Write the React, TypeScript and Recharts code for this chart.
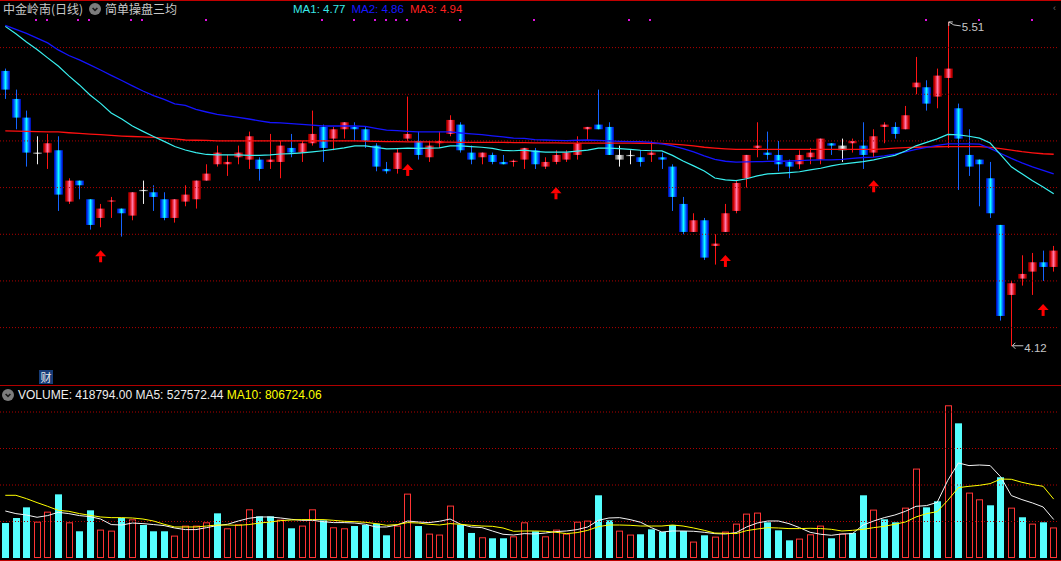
import React from "react";
import { Bar, ComposedChart, Line, ReferenceDot, ReferenceLine, XAxis, YAxis } from "recharts";

// daily candles
const OPEN = [
  5.3, 5.18, 5.1, 4.95, 4.95, 4.96, 4.74, 4.83, 4.75, 4.67,
  4.74, 4.71, 4.68, 4.79, 4.78, 4.75, 4.67, 4.74, 4.75, 4.83,
  4.9, 4.9, 4.93, 4.92, 4.92, 4.91, 4.91, 4.97, 4.95, 4.99,
  5.06, 5.01, 5.05, 5.06, 5.05, 4.98, 4.88, 4.88, 5.01, 5.0,
  4.93, 4.99, 5.03, 5.07, 4.95, 4.93, 4.94, 4.91, 4.91, 4.92,
  4.96, 4.89, 4.91, 4.92, 4.94, 5.05, 5.07, 5.06, 4.94, 4.94,
  4.93, 4.94, 4.93, 4.89, 4.73, 4.61, 4.66, 4.55, 4.61, 4.7,
  4.84, 4.97, 4.95, 4.94, 4.91, 4.9, 4.93, 4.92, 4.99, 4.98,
  4.99, 4.98, 4.95, 5.06, 5.06, 5.05, 5.23, 5.23, 5.19, 5.27,
  5.14, 4.94, 4.92, 4.84, 4.64, 4.34, 4.41, 4.44, 4.48, 4.46,
];
const HIGH = [
  5.31, 5.22, 5.13, 5.02, 5.03, 5.02, 4.84, 4.83, 4.75, 4.73,
  4.76, 4.71, 4.78, 4.83, 4.81, 4.78, 4.75, 4.81, 4.83, 4.9,
  4.98, 4.94, 4.98, 5.04, 4.93, 5.03, 5.0, 5.03, 5.0, 5.13,
  5.07, 5.06, 5.08, 5.08, 5.06, 4.99, 4.91, 4.97, 5.19, 5.04,
  5.0, 5.04, 5.11, 5.08, 4.98, 4.95, 4.95, 4.94, 4.92, 4.97,
  4.97, 4.93, 4.96, 4.96, 5.02, 5.06, 5.22, 5.08, 4.98, 4.96,
  4.96, 5.0, 4.95, 4.9, 4.76, 4.69, 4.67, 4.6, 4.73, 4.83,
  4.94, 5.08, 5.04, 5.0, 4.92, 4.96, 4.97, 5.01, 4.99, 5.01,
  5.01, 5.08, 5.05, 5.08, 5.08, 5.15, 5.36, 5.26, 5.31, 5.51,
  5.16, 5.05, 4.92, 4.91, 4.64, 4.4, 4.51, 4.52, 4.53, 4.55,
];
const LOW = [
  5.18, 5.05, 4.89, 4.9, 4.88, 4.7, 4.73, 4.75, 4.62, 4.63,
  4.67, 4.59, 4.66, 4.73, 4.7, 4.66, 4.65, 4.72, 4.71, 4.83,
  4.89, 4.85, 4.9, 4.88, 4.83, 4.88, 4.84, 4.93, 4.91, 4.98,
  4.91, 4.96, 5.01, 5.0, 4.97, 4.87, 4.86, 4.86, 5.0, 4.92,
  4.91, 4.97, 5.02, 4.95, 4.9, 4.9, 4.9, 4.9, 4.89, 4.88,
  4.88, 4.88, 4.9, 4.91, 4.92, 5.0, 5.05, 4.94, 4.89, 4.9,
  4.89, 4.91, 4.88, 4.7, 4.6, 4.61, 4.49, 4.47, 4.61, 4.69,
  4.8, 4.93, 4.92, 4.87, 4.84, 4.88, 4.9, 4.9, 4.94, 4.91,
  4.95, 4.88, 4.93, 4.99, 5.01, 5.05, 5.2, 5.13, 5.14, 4.97,
  4.79, 4.85, 4.72, 4.67, 4.23, 4.12, 4.38, 4.34, 4.4, 4.44,
];
const CLOSE = [
  5.22, 5.1, 4.95, 4.95, 4.99, 4.77, 4.83, 4.81, 4.64, 4.71,
  4.745, 4.69, 4.78, 4.79, 4.76, 4.67, 4.75, 4.77, 4.83, 4.86,
  4.95, 4.91, 4.95, 5.02, 4.88, 4.92, 4.98, 4.95, 4.99, 5.03,
  4.97, 5.05, 5.08, 5.05, 5.0, 4.89, 4.87, 4.95, 5.03, 4.94,
  4.98, 5.0, 5.09, 4.96, 4.92, 4.95, 4.91, 4.9, 4.915, 4.97,
  4.9, 4.91, 4.94, 4.95, 4.99, 5.06, 5.05, 4.94, 4.92, 4.94,
  4.91, 4.95, 4.92, 4.76, 4.61, 4.66, 4.5, 4.56, 4.69, 4.82,
  4.94, 4.98, 4.94, 4.9, 4.89, 4.94, 4.95, 5.01, 4.98, 4.96,
  5.0, 4.94, 5.02, 5.07, 5.03, 5.11, 5.25, 5.16, 5.28, 5.31,
  5.01, 4.89, 4.9, 4.69, 4.25, 4.39, 4.43, 4.48, 4.46, 4.53,
];
// candles drawn white (flat)
const WHITE_DAYS = [3, 13, 58, 59, 79];

// the three moving averages of the indicator
const MA1 = [
  5.491, 5.459, 5.424, 5.392, 5.356, 5.321, 5.279, 5.24, 5.197, 5.161,
  5.12, 5.094, 5.064, 5.041, 5.019, 4.998, 4.976, 4.961, 4.95, 4.942,
  4.94, 4.94, 4.94, 4.938, 4.938, 4.94, 4.944, 4.946, 4.949, 4.953,
  4.958, 4.964, 4.97, 4.979, 4.979, 4.972, 4.966, 4.967, 4.969, 4.968,
  4.969, 4.97, 4.979, 4.979, 4.976, 4.973, 4.968, 4.959, 4.958, 4.961,
  4.955, 4.952, 4.952, 4.952, 4.956, 4.961, 4.969, 4.969, 4.967, 4.964,
  4.96, 4.958, 4.957, 4.938, 4.914, 4.893, 4.871, 4.841, 4.833, 4.83,
  4.838, 4.85, 4.859, 4.861, 4.864, 4.868, 4.876, 4.883, 4.893, 4.901,
  4.906, 4.911, 4.919, 4.929, 4.938, 4.957, 4.979, 4.994, 5.009, 5.028,
  5.026, 5.02, 5.012, 4.991, 4.94, 4.889, 4.859, 4.829, 4.803, 4.774,
];
const MA2 = [
  5.495, 5.478, 5.461, 5.441, 5.42, 5.39, 5.366, 5.347, 5.326, 5.304,
  5.281, 5.259, 5.236, 5.214, 5.194, 5.178, 5.159, 5.152, 5.135, 5.124,
  5.114, 5.107, 5.101, 5.094, 5.086, 5.079, 5.077, 5.074, 5.071, 5.068,
  5.064, 5.064, 5.064, 5.064, 5.062, 5.054, 5.046, 5.044, 5.041, 5.039,
  5.039, 5.039, 5.039, 5.034, 5.03, 5.027, 5.022, 5.017, 5.012, 5.011,
  5.006, 5.004, 5.002, 5.001, 5.003, 5.004, 5.002, 5.0, 4.998, 4.997,
  4.997, 4.994, 4.987, 4.979, 4.967, 4.953, 4.936, 4.921, 4.913, 4.909,
  4.91, 4.911, 4.912, 4.913, 4.914, 4.916, 4.918, 4.919, 4.919, 4.921,
  4.925, 4.929, 4.931, 4.936, 4.943, 4.953, 4.964, 4.972, 4.981, 4.987,
  4.987, 4.987, 4.986, 4.968, 4.946, 4.925, 4.906, 4.889, 4.874, 4.859,
];
const MA3 = [
  5.043, 5.042, 5.041, 5.04, 5.039, 5.039, 5.035, 5.032, 5.029, 5.027,
  5.024, 5.021, 5.019, 5.017, 5.015, 5.012, 5.009, 5.004, 5.003, 5.002,
  5.0, 5.0, 5.0, 5.0, 5.0, 5.0, 5.0, 5.0, 5.0, 5.0,
  5.0, 5.0, 5.0, 5.0, 4.999, 4.998, 4.997, 4.997, 4.996, 4.996,
  4.996, 4.995, 4.995, 4.994, 4.994, 4.994, 4.994, 4.994, 4.993, 4.993,
  4.992, 4.992, 4.992, 4.991, 4.991, 4.991, 4.991, 4.991, 4.991, 4.991,
  4.99, 4.99, 4.989, 4.986, 4.983, 4.979, 4.973, 4.969, 4.966, 4.964,
  4.964, 4.964, 4.964, 4.964, 4.964, 4.964, 4.964, 4.964, 4.964, 4.964,
  4.964, 4.964, 4.964, 4.966, 4.969, 4.971, 4.973, 4.974, 4.975, 4.976,
  4.976, 4.976, 4.976, 4.972, 4.967, 4.961, 4.954, 4.949, 4.945, 4.943,
];

// signal markers
const ARROW_DAYS = [9, 38, 52, 68, 82, 98];
const DOT_DAYS = [3, 4, 7, 8, 12, 13, 19, 30, 33, 35, 36, 37, 38, 43, 50, 59, 61, 87, 92, 97];

// volume (shares), its direction (u = red hollow, d = cyan) and averages
const VOLUME = [
  479000, 548000, 694000, 498000, 635000, 872000, 489000, 366000, 653000, 389000,
  375000, 548000, 530000, 452000, 366000, 366000, 307000, 444000, 444000, 489000,
  612000, 407000, 462000, 667000, 571000, 571000, 526000, 407000, 444000, 667000,
  516000, 421000, 407000, 438000, 452000, 471000, 311000, 444000, 882000, 438000,
  334000, 321000, 718000, 458000, 343000, 284000, 270000, 270000, 297000, 489000,
  366000, 297000, 389000, 334000, 498000, 512000, 859000, 516000, 375000, 321000,
  325000, 393000, 356000, 452000, 370000, 225000, 311000, 293000, 362000, 471000,
  608000, 622000, 489000, 379000, 242000, 266000, 325000, 444000, 270000, 334000,
  343000, 859000, 663000, 530000, 489000, 690000, 1225000, 694000, 777000, 2092000,
  1845000, 896000, 804000, 722000, 1106000, 690000, 558000, 471000, 489000, 418794,
];
const VOL_DIR =
  "ddduududdu" + "ududdduuuu" + "duuudduduu" + "duudddduud" + "uuuddudduu" +
  "duuuuudduu" + "ddddduduuu" + "uuddduuudu" + "ddudduuddu" + "duuddududu";
const VMA5 = [
  644000, 608000, 589000, 558000, 581000, 626000, 608000, 581000, 567000, 534000,
  458000, 452000, 479000, 471000, 458000, 444000, 411000, 389000, 389000, 416000,
  444000, 462000, 507000, 544000, 562000, 562000, 548000, 530000, 516000, 516000,
  498000, 485000, 485000, 479000, 462000, 425000, 425000, 452000, 507000, 493000,
  485000, 503000, 534000, 462000, 425000, 416000, 370000, 325000, 315000, 334000,
  329000, 342000, 362000, 370000, 389000, 425000, 516000, 548000, 553000, 526000,
  489000, 416000, 356000, 370000, 370000, 366000, 352000, 334000, 329000, 348000,
  425000, 479000, 507000, 507000, 471000, 416000, 352000, 325000, 311000, 329000,
  334000, 452000, 507000, 553000, 589000, 640000, 708000, 718000, 763000, 1064000,
  1302000, 1266000, 1274000, 1266000, 1110000, 855000, 800000, 754000, 699000, 527572.44,
];
const VMA10 = [
  859000, 859000, 813000, 759000, 708000, 653000, 640000, 608000, 585000, 562000,
  553000, 553000, 548000, 534000, 507000, 462000, 425000, 425000, 425000, 438000,
  452000, 452000, 448000, 458000, 479000, 493000, 512000, 521000, 526000, 526000,
  526000, 516000, 503000, 498000, 489000, 471000, 448000, 458000, 485000, 479000,
  462000, 452000, 471000, 462000, 448000, 438000, 434000, 411000, 366000, 370000,
  370000, 366000, 352000, 334000, 348000, 379000, 430000, 452000, 452000, 448000,
  438000, 438000, 438000, 452000, 438000, 411000, 379000, 342000, 338000, 334000,
  375000, 397000, 416000, 411000, 403000, 403000, 407000, 403000, 393000, 370000,
  379000, 393000, 416000, 434000, 462000, 493000, 562000, 608000, 635000, 790000,
  964000, 982000, 996000, 1019000, 1082000, 1078000, 1037000, 1006000, 982000, 806724.06,
];

const PRICE_GRID = [4.2, 4.4, 4.6, 4.8, 5.0, 5.2, 5.4];
const VOL_GRID = [500000, 1000000, 1500000, 2000000];

const data = OPEN.map((o, i) => ({
  i,
  open: o,
  high: HIGH[i],
  low: LOW[i],
  close: CLOSE[i],
  white: WHITE_DAYS.includes(i),
  ma1: MA1[i],
  ma2: MA2[i],
  ma3: MA3[i],
  arrowAt: ARROW_DAYS.includes(i) ? LOW[i] : null,
  flag: DOT_DAYS.includes(i) ? CLOSE[i] : null,
  vol: VOLUME[i],
  volUp: VOL_DIR[i] === "u",
  vma5: VMA5[i],
  vma10: VMA10[i],
}));

const hiIdx = HIGH.indexOf(Math.max(...HIGH));
const loIdx = LOW.indexOf(Math.min(...LOW));
const last = data.length - 1;

const WICK: Record<string, string> = { u: "#ff1414", d: "#1464ff", w: "#f0f0f0" };
const SANS = "'Liberation Sans', Arial, sans-serif";
const CJK = "'Noto Sans CJK SC', sans-serif";

function Candle(props: any) {
  const { x, y, width, height, payload } = props;
  if (x == null || y == null || !payload) return <g />;
  const top = Math.min(y, y + height);
  const h = Math.abs(height);
  const { open, close, high, low, white } = payload;
  const span = high - low;
  const yOf = (p: number) => (span > 0 ? top + ((high - p) / span) * h : top);
  const kind = white ? "w" : close < open ? "d" : "u";
  const cx = Math.floor(x + width / 2) + 0.5;
  const bTop = yOf(Math.max(open, close));
  let bBot = yOf(Math.min(open, close));
  if (bBot - bTop < 1.2) bBot = bTop + 1.2;
  return (
    <g>
      <line x1={cx} x2={cx} y1={top} y2={top + h} stroke={WICK[kind]} strokeWidth={1} />
      <rect x={Math.round(x)} y={bTop} width={width} height={bBot - bTop} fill={`url(#body-${kind})`} />
    </g>
  );
}

function VolBar(props: any) {
  const { x, y, width, height, payload } = props;
  if (x == null || y == null || !payload) return <g />;
  const rx = Math.round(x);
  if (payload.volUp) {
    return (
      <rect x={rx + 0.5} y={y + 0.5} width={width - 1} height={Math.max(height - 1, 0)}
        fill="none" stroke="#ff3434" strokeWidth={1} />
    );
  }
  return <rect x={rx} y={y} width={width} height={height} fill="#55ffff" />;
}

function ArrowDot(props: any) {
  const { cx, cy, payload, index } = props;
  if (cy == null || payload?.arrowAt == null) return <g key={`a${index}`} />;
  const t = cy + 23;
  return (
    <g key={`a${index}`}>
      <polygon points={`${cx - 5.5},${t + 6} ${cx},${t} ${cx + 5.5},${t + 6}`} fill="#ff0000" />
      <rect x={cx - 1.5} y={t + 6} width={3} height={6} fill="#ff0000" />
    </g>
  );
}

function FlagDot(props: any) {
  const { cx, payload, index } = props;
  if (payload?.flag == null) return <g key={`f${index}`} />;
  return <rect key={`f${index}`} x={Math.round(cx) - 2} y={19} width={2} height={2} fill="#e010e0" />;
}

function HighMark(props: any) {
  const { cx, cy } = props;
  return (
    <g>
      <polyline points={`${cx + 5},${cy} ${cx + 1},${cy} ${cx + 1},${cy + 4}`} fill="none" stroke="#c8c8c8" />
      <polyline points={`${cx + 1},${cy} ${cx + 6},${cy + 3} ${cx + 13},${cy + 4}`} fill="none" stroke="#c8c8c8" />
      <text x={cx + 14} y={cy + 9.5} fill="#c8c8c8" fontSize={11.5} fontFamily={SANS}>
        {HIGH[hiIdx].toFixed(2)}
      </text>
    </g>
  );
}

function LowMark(props: any) {
  const { cx, cy } = props;
  return (
    <g>
      <line x1={cx + 1} x2={cx + 12} y1={cy - 0.5} y2={cy - 0.5} stroke="#c8c8c8" />
      <polyline points={`${cx + 4},${cy - 3.5} ${cx + 1},${cy - 0.5} ${cx + 4},${cy + 2.5}`} fill="none" stroke="#c8c8c8" />
      <text x={cx + 13} y={cy + 5.5} fill="#c8c8c8" fontSize={11.5} fontFamily={SANS}>
        {LOW[loIdx].toFixed(2)}
      </text>
    </g>
  );
}

function Chevron({ left, top, size }: { left: number; top: number; size: number }) {
  return (
    <svg style={{ position: "absolute", left, top }} width={size} height={size}>
      <circle cx={size / 2} cy={size / 2} r={size / 2} fill="#7c7c7c" />
      <polyline points={`${size * 0.3},${size * 0.42} ${size / 2},${size * 0.62} ${size * 0.7},${size * 0.42}`}
        fill="none" stroke="#1a1a1a" strokeWidth={1.6} />
    </svg>
  );
}

export default function App() {
  return (
    <div style={{ position: "absolute", left: 0, top: 0, width: 1061, height: 561, background: "#000", overflow: "hidden" }}>
      <ComposedChart width={1061} height={385} data={data} margin={{ top: 0, right: 2, bottom: 0, left: 0 }}
        style={{ position: "absolute", left: 0, top: 0 }}>
        <defs>
          <linearGradient id="body-u" x1="0" x2="1" y1="0" y2="0">
            <stop offset="0" stopColor="#600000" />
            <stop offset="0.2" stopColor="#d80000" />
            <stop offset="0.5" stopColor="#ff78a8" />
            <stop offset="0.8" stopColor="#d80000" />
            <stop offset="1" stopColor="#600000" />
          </linearGradient>
          <linearGradient id="body-d" x1="0" x2="1" y1="0" y2="0">
            <stop offset="0" stopColor="#0000a8" />
            <stop offset="0.22" stopColor="#0050ff" />
            <stop offset="0.5" stopColor="#10ffff" />
            <stop offset="0.78" stopColor="#0050ff" />
            <stop offset="1" stopColor="#0000a8" />
          </linearGradient>
          <linearGradient id="body-w" x1="0" x2="1" y1="0" y2="0">
            <stop offset="0" stopColor="#505050" />
            <stop offset="0.5" stopColor="#ffffff" />
            <stop offset="1" stopColor="#505050" />
          </linearGradient>
        </defs>
        <XAxis dataKey="i" type="category" hide />
        <YAxis type="number" domain={[3.954, 5.604]} allowDataOverflow hide />
        {PRICE_GRID.map((v) => (
          <ReferenceLine key={v} y={v} stroke="#b00000" strokeDasharray="1 2" />
        ))}
        <Bar dataKey={(d: any) => [d.low, d.high]} barSize={9} shape={Candle} isAnimationActive={false} />
        <Line dataKey="ma3" stroke="#ff1010" strokeWidth={1.3} dot={false} activeDot={false} isAnimationActive={false} />
        <Line dataKey="ma2" stroke="#1414ff" strokeWidth={1.3} dot={false} activeDot={false} isAnimationActive={false} />
        <Line dataKey="ma1" stroke="#38f0f0" strokeWidth={1.2} dot={false} activeDot={false} isAnimationActive={false} />
        <Line dataKey="arrowAt" stroke="none" dot={ArrowDot} activeDot={false} isAnimationActive={false} />
        <Line dataKey="flag" stroke="none" dot={FlagDot} activeDot={false} isAnimationActive={false} />
        <ReferenceDot x={hiIdx} y={HIGH[hiIdx]} shape={HighMark} />
        <ReferenceDot x={loIdx} y={LOW[loIdx]} shape={LowMark} />
      </ComposedChart>

      <ComposedChart width={1061} height={176} data={data} margin={{ top: 0, right: 2, bottom: 3, left: 0 }}
        style={{ position: "absolute", left: 0, top: 385 }}>
        <XAxis dataKey="i" type="category" hide />
        <YAxis type="number" domain={[0, 2370000]} allowDataOverflow hide />
        {VOL_GRID.map((v) => (
          <ReferenceLine key={v} y={v} stroke="#b00000" strokeDasharray="1 2" />
        ))}
        <Bar dataKey="vol" barSize={7} shape={VolBar} isAnimationActive={false} />
        <Line dataKey="vma5" stroke="#f4f4f4" strokeWidth={1} dot={false} activeDot={false} isAnimationActive={false} />
        <Line dataKey="vma10" stroke="#ffff00" strokeWidth={1} dot={false} activeDot={false} isAnimationActive={false} />
      </ComposedChart>

      {/* panel borders */}
      <div style={{ position: "absolute", left: 0, top: 0, width: 1061, height: 1, background: "#c00000" }} />
      <div style={{ position: "absolute", left: 0, top: 385, width: 1061, height: 1, background: "#b00000" }} />
      <div style={{ position: "absolute", left: 0, top: 560, width: 1061, height: 1, background: "#c00000" }} />

      {/* main header */}
      <div style={{ position: "absolute", left: 3, top: 2, color: "#c8c8c8", fontSize: 12, lineHeight: "14px", fontFamily: CJK, whiteSpace: "nowrap" }}>
        中金岭南(日线)
      </div>
      <Chevron left={89} top={3} size={12} />
      <div style={{ position: "absolute", left: 105, top: 2, color: "#c8c8c8", fontSize: 12, lineHeight: "14px", fontFamily: CJK, whiteSpace: "nowrap" }}>
        简单操盘三均
      </div>
      <div style={{ position: "absolute", left: 293, top: 2, fontSize: 11.5, lineHeight: "14px", fontFamily: SANS, whiteSpace: "nowrap" }}>
        <span style={{ color: "#38e8e8" }}>MA1: {MA1[last].toFixed(2)}</span>
        <span style={{ color: "#1818ff", marginLeft: 6 }}>MA2: {MA2[last].toFixed(2)}</span>
        <span style={{ color: "#ff2020", marginLeft: 6 }}>MA3: {MA3[last].toFixed(2)}</span>
      </div>
      <div style={{ position: "absolute", left: 1053, top: 3, color: "#707070", fontSize: 9, fontFamily: SANS }}>‹</div>

      {/* finance badge */}
      <div style={{ position: "absolute", left: 39, top: 370, width: 14, height: 14, background: "#163c78", color: "#e8e8e8",
        fontSize: 11, lineHeight: "14px", textAlign: "center", fontFamily: CJK }}>
        财
      </div>

      {/* volume header */}
      <Chevron left={2} top={389} size={12} />
      <div style={{ position: "absolute", left: 18, top: 388, fontSize: 12, lineHeight: "14px", fontFamily: SANS, whiteSpace: "nowrap", color: "#eeeeee" }}>
        VOLUME: {VOLUME[last].toFixed(2)} MA5: {VMA5[last].toFixed(2)}{" "}
        <span style={{ color: "#ffff00" }}>MA10: {VMA10[last].toFixed(2)}</span>
      </div>
    </div>
  );
}
